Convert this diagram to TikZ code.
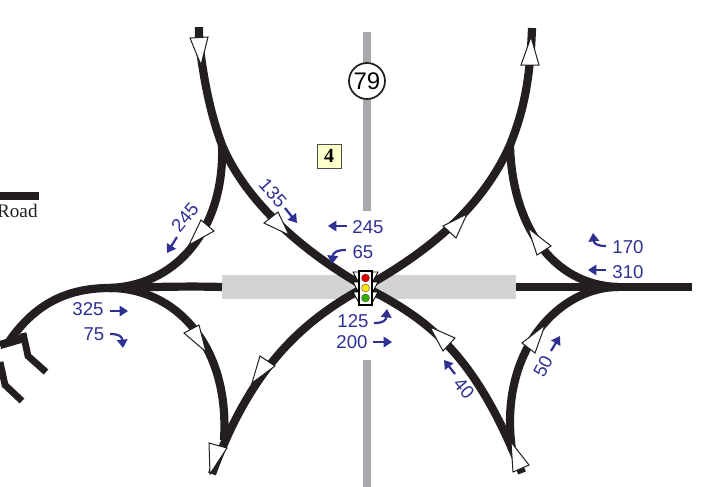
\documentclass[tikz,border=0pt]{standalone}
\usepackage{fontspec}
\setmainfont{Liberation Sans}
\newfontfamily\roadfont{Liberation Serif}
\usetikzlibrary{arrows.meta}
\definecolor{volblue}{HTML}{2E3192}
\definecolor{roadblack}{HTML}{231F20}
\definecolor{bandgray}{HTML}{D1D3D4}
\definecolor{routegray}{HTML}{A7A9AC}
\definecolor{boxyellow}{HTML}{FFFFCC}

\begin{document}
\begin{tikzpicture}[x=0.5pt, y=-0.5pt]
  \tikzset{
    road_line/.style={draw=roadblack, line width=4.1pt},
    stub_line/.style={draw=roadblack, line width=3.4pt},
    ramp_head/.style={draw=roadblack, fill=white, line width=0.5pt, line join=miter},
    vol_label/.style={text=volblue, font=\fontsize{9.3}{9.3}\selectfont, inner sep=0pt},
    vol_arrow/.style={draw=volblue, line width=1.1pt, -{Triangle[length=4.2pt, width=5.2pt]}},
    lamp_node/.style={circle, draw=black!70, line width=0.2pt, minimum size=4pt, inner sep=0pt}
  }
  \useasboundingbox (0,0) rectangle (702,487);

  % Puntos de la red
  \coordinate (center) at (365,287);
  \coordinate (nw_split) at (222,145);
  \coordinate (ne_split) at (510,145);
  \coordinate (west_merge) at (110,288);
  \coordinate (east_merge) at (618,287);
  \coordinate (nw_end) at (199,27);
  \coordinate (ne_end) at (532,28);
  \coordinate (sw_end) at (212,474);
  \coordinate (se_end) at (522,473);
  \coordinate (west_end) at (8,343);
  \coordinate (west_a) at (0,345);
  \coordinate (west_b) at (24,338);
  \coordinate (east_end) at (692,287);
  \coordinate (band_west) at (222,287);
  \coordinate (band_east) at (516,287);
  \coordinate (stub_a) at (23,333);
  \coordinate (stub_a_bend) at (28,356);
  \coordinate (stub_a_end) at (46,372);
  \coordinate (stub_b) at (0,362);
  \coordinate (stub_b_bend) at (5,385);
  \coordinate (stub_b_end) at (22,401);
  \coordinate (bar_west) at (0,196);
  \coordinate (bar_east) at (39,196);

  % Banda gris y ruta vertical
  \fill[bandgray] (222,275) rectangle (516,299);
  \fill[routegray] (363,32) rectangle (371,211);
  \fill[routegray] (363,360) rectangle (371,487);

  % Calles
  \draw[road_line] (nw_end) -- (199,40) .. controls (204,85) and (212,118) .. (nw_split)
    .. controls (245,200) and (300,250) .. (center);
  \draw[road_line] (nw_split) .. controls (225,225) and (180,285) .. (west_merge);
  \draw[road_line] (west_merge) .. controls (68,288) and (35,303) .. (west_end);
  \draw[road_line] (west_a) -- (west_b);
  \draw[road_line] (west_merge) .. controls (175,288) and (230,345) .. (224,440);
  \draw[road_line] (center) .. controls (300,322) and (250,370) .. (sw_end);
  \draw[road_line] (center) .. controls (428,252) and (482,208) .. (ne_split)
    .. controls (522,115) and (530,85) .. (ne_end);
  \draw[road_line] (ne_split) .. controls (512,225) and (552,285) .. (east_merge);
  \draw[road_line] (center) .. controls (425,318) and (474,350) .. (se_end);
  \draw[road_line] (east_merge) .. controls (560,287) and (498,350) .. (512,450);
  \draw[road_line] (west_merge) .. controls (150,287) and (190,286) .. (band_west);
  \draw[road_line] (band_east) -- (east_end);
  \draw[stub_line] (stub_a) -- (stub_a_bend) -- (stub_a_end);
  \draw[stub_line] (stub_b) -- (stub_b_bend) -- (stub_b_end);
  \draw[road_line] (bar_west) -- (bar_east);

  % Flechas blancas sobre las calles
  \draw[ramp_head] (190,38) -- (208,37) -- (201,65) -- cycle;
  \draw[ramp_head] (201,220) -- (214,231) -- (189,245) -- cycle;
  \draw[ramp_head] (264,223) -- (278,212) -- (289,235) -- cycle;
  \draw[ramp_head] (184,333) -- (199,325) -- (206,352) -- cycle;
  \draw[ramp_head] (260,356) -- (275,366) -- (252,383) -- cycle;
  \draw[ramp_head] (209,443) -- (227,448) -- (210,474) -- cycle;
  \draw[ramp_head] (521,65) -- (539,65) -- (531,37) -- cycle;
  \draw[ramp_head] (443,226) -- (456,238) -- (467,214) -- cycle;
  \draw[ramp_head] (537,255) -- (551,246) -- (528,228) -- cycle;
  \draw[ramp_head] (455,338) -- (443,351) -- (430,327) -- cycle;
  \draw[ramp_head] (522,343) -- (535,353) -- (545,325) -- cycle;
  \draw[ramp_head] (513,472) -- (529,465) -- (511,442) -- cycle;

  % Semaforo
  \foreach \y in {278,288,298} {
    \draw[fill=white, line width=0.4pt] (359,\y-6) -- (353,\y-6) -- (359,\y+5) -- cycle;
    \draw[fill=white, line width=0.4pt] (372,\y-6) -- (378,\y-6) -- (372,\y+5) -- cycle;
  }
  \node[draw=black, fill=white, line width=0.8pt, minimum width=6.4pt, minimum height=17pt, inner sep=0pt] (signal) at (365.5,288) {};
  \node[lamp_node, fill=red!90!black] (lamp_red) at (365.5,278) {};
  \node[lamp_node, fill=yellow!90!orange] (lamp_yellow) at (365.5,288) {};
  \node[lamp_node, fill=green!60!black!80!yellow] (lamp_green) at (365.5,298) {};

  % Ruta y zona
  \node[circle, draw=roadblack, fill=white, line width=0.85pt, minimum size=18pt, inner sep=0pt, font=\fontsize{12}{12}\selectfont] (route) at (367,81) {79};
  \node[draw=black!70, fill=boxyellow, line width=0.4pt, minimum size=12pt, inner sep=0pt, font=\roadfont\bfseries\fontsize{10}{10}\selectfont] (zone) at (329,156) {4};
  \node[anchor=east, inner sep=0pt, text=roadblack, font=\roadfont\fontsize{9.6}{9.6}\selectfont] (road_name) at (38,211) {Road};

  % Volumenes
  \node[vol_label] (v_245n) at (368,227) {245};
  \node[vol_label] (v_65) at (363,252) {65};
  \node[vol_label] (v_125) at (353,321) {125};
  \node[vol_label] (v_200) at (352,342) {200};
  \node[vol_label, rotate=-48] (v_135) at (273,193) {135};
  \node[vol_label, rotate=50] (v_245w) at (185,217) {245};
  \node[vol_label] (v_325) at (88,309) {325};
  \node[vol_label] (v_75) at (94,334) {75};
  \node[vol_label] (v_170) at (628,247) {170};
  \node[vol_label] (v_310) at (628,272) {310};
  \node[vol_label, rotate=62] (v_50) at (543,366) {50};
  \node[vol_label, rotate=-50] (v_40) at (464,388) {40};

  % Flechas de giro
  \coordinate (a_245n_s) at (347,226);
  \coordinate (a_245n_e) at (328,226);
  \coordinate (a_65_s) at (346,250);
  \coordinate (a_65_e) at (332,264);
  \coordinate (a_125_s) at (374,323);
  \coordinate (a_125_e) at (387,309);
  \coordinate (a_200_s) at (373,342);
  \coordinate (a_200_e) at (392,342);
  \coordinate (a_135_s) at (285,208);
  \coordinate (a_135_e) at (297,223);
  \coordinate (a_245w_s) at (177,237);
  \coordinate (a_245w_e) at (167,253);
  \coordinate (a_325_s) at (110,311);
  \coordinate (a_325_e) at (128,311);
  \coordinate (a_75_s) at (110,334);
  \coordinate (a_75_e) at (123,348);
  \coordinate (a_170_s) at (606,246);
  \coordinate (a_170_e) at (593,233);
  \coordinate (a_310_s) at (606,270);
  \coordinate (a_310_e) at (588,270);
  \coordinate (a_50_s) at (551,351);
  \coordinate (a_50_e) at (560,336);
  \coordinate (a_40_s) at (455,374);
  \coordinate (a_40_e) at (444,360);

  \draw[vol_arrow] (a_245n_s) -- (a_245n_e);
  \draw[vol_arrow] (a_65_s) .. controls (336,250) and (333,253) .. (a_65_e);
  \draw[vol_arrow] (a_125_s) .. controls (384,323) and (386,320) .. (a_125_e);
  \draw[vol_arrow] (a_200_s) -- (a_200_e);
  \draw[vol_arrow] (a_135_s) -- (a_135_e);
  \draw[vol_arrow] (a_245w_s) -- (a_245w_e);
  \draw[vol_arrow] (a_325_s) -- (a_325_e);
  \draw[vol_arrow] (a_75_s) .. controls (120,334) and (122,337) .. (a_75_e);
  \draw[vol_arrow] (a_170_s) .. controls (596,246) and (594,243) .. (a_170_e);
  \draw[vol_arrow] (a_310_s) -- (a_310_e);
  \draw[vol_arrow] (a_50_s) -- (a_50_e);
  \draw[vol_arrow] (a_40_s) -- (a_40_e);
\end{tikzpicture}
\end{document}
